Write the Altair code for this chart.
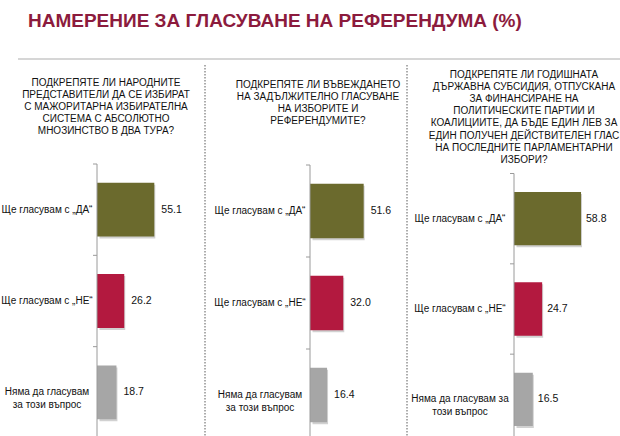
import altair as alt
import pandas as pd

# ---------------- data ----------------
title_text = "НАМЕРЕНИЕ ЗА ГЛАСУВАНЕ НА РЕФЕРЕНДУМА (%)"
keys = ["yes", "no", "abstain"]
labels_a = ["Ще гласувам с „ДА“", "Ще гласувам с „НЕ“", "Няма да гласувам\nза този въпрос"]
labels_b = ["Ще гласувам с „ДА“", "Ще гласувам с „НЕ“", "Няма да гласувам за\nтози въпрос"]
q1 = "ПОДКРЕПЯТЕ ЛИ НАРОДНИТЕ\nПРЕДСТАВИТЕЛИ ДА СЕ ИЗБИРАТ\nС МАЖОРИТАРНА ИЗБИРАТЕЛНА\nСИСТЕМА С АБСОЛЮТНО\nМНОЗИНСТВО В ДВА ТУРА?"
q2 = "ПОДКРЕПЯТЕ ЛИ ВЪВЕЖДАНЕТО\nНА ЗАДЪЛЖИТЕЛНО ГЛАСУВАНЕ\nНА ИЗБОРИТЕ И\nРЕФЕРЕНДУМИТЕ?"
q3 = "ПОДКРЕПЯТЕ ЛИ ГОДИШНАТА\nДЪРЖАВНА СУБСИДИЯ, ОТПУСКАНА\nЗА ФИНАНСИРАНЕ НА\nПОЛИТИЧЕСКИТЕ ПАРТИИ И\nКОАЛИЦИИТЕ, ДА БЪДЕ ЕДИН ЛЕВ ЗА\nЕДИН ПОЛУЧЕН ДЕЙСТВИТЕЛЕН ГЛАС\nНА ПОСЛЕДНИТЕ ПАРЛАМЕНТАРНИ\nИЗБОРИ?"
values_1 = [55.1, 26.2, 18.7]
values_2 = [51.6, 32.0, 16.4]
values_3 = [58.8, 24.7, 16.5]
bar_colors = ["#6b6a2d", "#b3193f", "#a6a6a6"]

FONT = "Liberation Sans, Arial, sans-serif"
PAD_IN = 0.41
PAD_OUT = 0.205


def panel(values, labels, question, axis_x, ppu, yrange, label_cx, q_cx, q_y, dx):
    df = pd.DataFrame({"key": keys, "label": labels, "value": values, "color": bar_colors})
    xs = alt.Scale(domain=[0, 100], range=[axis_x, axis_x + 100 * ppu])
    ys = alt.Scale(domain=keys, range=yrange, paddingInner=PAD_IN, paddingOuter=PAD_OUT)
    step = (yrange[1] - yrange[0]) / 3.0
    gap = step * PAD_IN / 2.0
    base = alt.Chart(df)
    Y = alt.Y("key:N", scale=ys, axis=None)
    Y0 = alt.Y("key:N", scale=ys, axis=None, bandPosition=0)
    Y1 = alt.Y("key:N", scale=ys, axis=None, bandPosition=1)

    shadow = base.mark_bar(color="#000000", opacity=0.18, xOffset=1, x2Offset=2.5, yOffset=2).encode(
        x=alt.X("value:Q", scale=xs, axis=None),
        x2=alt.X2(datum=0),
        y=Y,
    )
    bars = base.mark_bar().encode(
        x=alt.X("value:Q", scale=xs, axis=None),
        x2=alt.X2(datum=0),
        y=Y,
        color=alt.Color("color:N", scale=None, legend=None),
    )
    vals = base.mark_text(align="left", baseline="middle", dx=dx, font=FONT,
                          fontSize=10.5, color="#111111").encode(
        x=alt.X("value:Q", scale=xs, axis=None),
        y=Y,
        text=alt.Text("value:Q", format=".1f"),
    )
    labs = base.mark_text(align="center", baseline="middle", lineBreak="\n", lineHeight=12.5,
                          font=FONT, fontSize=10, color="#111111").encode(
        x=alt.value(label_cx),
        y=Y,
        text="label:N",
    )
    top_df = base.transform_filter(alt.datum.key == keys[0])
    axis_line = top_df.mark_rule(color="#9a9a9a", strokeWidth=1, yOffset=-gap).encode(
        x=alt.X(datum=0, scale=xs, axis=None),
        y=Y0,
        y2=alt.value(436),
    )
    top_tick = top_df.mark_rule(color="#9a9a9a", strokeWidth=1, x2Offset=-4, yOffset=-gap).encode(
        x=alt.X(datum=0, scale=xs, axis=None),
        x2=alt.X2(datum=0),
        y=Y0,
    )
    mid_ticks = base.transform_filter(alt.datum.key != keys[2]).mark_rule(
        color="#9a9a9a", strokeWidth=1, x2Offset=-4, yOffset=gap).encode(
        x=alt.X(datum=0, scale=xs, axis=None),
        x2=alt.X2(datum=0),
        y=Y1,
    )
    qdf = pd.DataFrame({"q": [question]})
    qtext = alt.Chart(qdf).mark_text(align="center", baseline="top", lineBreak="\n", lineHeight=12.1,
                                     font=FONT, fontSize=10, color="#111111").encode(
        x=alt.value(q_cx), y=alt.value(q_y), text="q:N")
    return alt.layer(shadow, bars, vals, labs, axis_line, top_tick, mid_ticks, qtext)


p1 = panel(values_1, labels_a, q1, 97, 1.04, [164, 438], 47, 106, 78, 7)
p2 = panel(values_2, labels_a, q2, 310, 1.04, [165, 441], 260, 318, 80, 7)
p3 = panel(values_3, labels_b, q3, 514, 1.14, [173.5, 444.5], 460, 524, 70, 5)

one = pd.DataFrame({"t": [title_text]})
title = alt.Chart(one).mark_text(align="left", baseline="middle", font="Liberation Sans, Arial, sans-serif",
                                 fontWeight="bold", fontSize=19, color="#8c1b3d").encode(
    x=alt.value(28), y=alt.value(21), text="t:N")
hline = alt.Chart(one).mark_rule(color="#d6d6d6", strokeWidth=2).encode(
    x=alt.value(18), x2=alt.value(620), y=alt.value(59))
sep_df = pd.DataFrame({"sx": [205, 407]})
seps = alt.Chart(sep_df).mark_rule(color="#5a5a5a", strokeWidth=1, strokeDash=[1.5, 1.5]).encode(
    x=alt.X("sx:Q", scale=alt.Scale(domain=[0, 620], range=[0, 620]), axis=None),
    y=alt.value(65), y2=alt.value(436))

chart = alt.layer(title, hline, seps, p1, p2, p3).resolve_scale(
    x="independent", y="independent", color="independent"
).properties(
    width=620, height=436, padding=0, background="white",
    autosize=alt.AutoSizeParams(type="none"),
).configure_view(stroke=None)

chart.save("out.html", embed_options={"renderer": "svg", "actions": False})
